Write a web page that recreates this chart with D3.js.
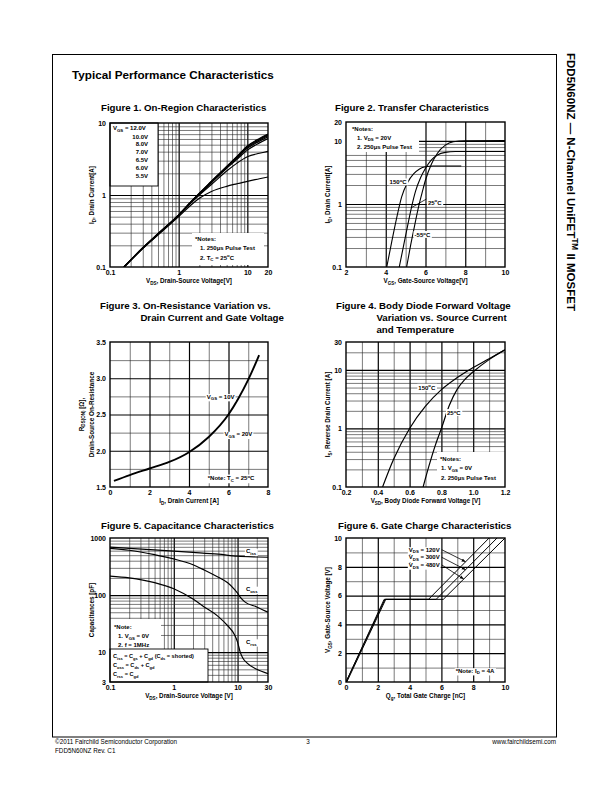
<!DOCTYPE html>
<html><head><meta charset="utf-8">
<script src="https://cdn.jsdelivr.net/npm/d3@7"></script>
<style>body{margin:0;background:#fff}svg{display:block}</style>
</head><body><script>
// ================= DATA =================
// Figure 1 : On-Region Characteristics
const fig1Vds   = [0.16,0.3,0.5,1,1.5,2,3,5,7,10,15,20];
const fig1Id12  = [0.1,0.185,0.29,0.53,0.8,1.06,1.55,2.5,3.4,4.8,6.1,7.0];
const fig1Id10  = [0.1,0.185,0.29,0.53,0.8,1.05,1.54,2.48,3.35,4.7,5.95,6.85];
const fig1Id8   = [0.1,0.184,0.29,0.53,0.79,1.04,1.52,2.45,3.3,4.6,5.8,6.7];
const fig1Id7   = [0.1,0.183,0.285,0.52,0.79,1.03,1.5,2.4,3.2,4.45,5.6,6.45];
const fig1Id65  = [0.1,0.183,0.285,0.52,0.78,1.02,1.48,2.35,3.1,4.2,5.3,6.1];
const fig1Id6   = [0.1,0.182,0.28,0.52,0.77,1.0,1.4,2.15,2.75,3.4,3.8,4.05];
const fig1Id55  = [0.1,0.18,0.28,0.5,0.72,0.9,1.12,1.32,1.43,1.55,1.68,1.78];
const fig1Legend = ["10.0V","8.0V","7.0V","6.5V","6.0V","5.5V"];
const fig1XTicks = [0.1,1,10,20], fig1XLabels = ["0.1","1","10","20"];
const fig1YTicks = [0.1,1,10],    fig1YLabels = ["0.1","1","10"];

// Figure 2 : Transfer Characteristics
const fig2Vgs150 = [4.05,4.3,4.55,4.8,5.1,5.4,5.7,6.0,6.4,7.8];
const fig2Id150  = [0.1,0.25,0.6,1.3,2.2,3.0,3.6,3.9,4.0,4.0];
const fig2Vgs25  = [4.68,4.9,5.1,5.3,5.5,5.75,6.0,6.3,6.6,7.0,7.5,10];
const fig2Id25   = [0.1,0.22,0.45,0.9,1.6,2.6,3.7,5.0,6.0,6.6,6.8,6.8];
const fig2VgsM55 = [5.05,5.25,5.45,5.65,5.85,6.0,6.3,6.6,7.0,7.4,8,10];
const fig2IdM55  = [0.1,0.22,0.45,0.9,1.6,2.4,4.3,6.4,8.6,9.7,10.1,10.2];
const fig2XTicks = [2,4,6,8,10], fig2XLabels = ["2","4","6","8","10"];
const fig2YTicks = [0.1,1,10,20], fig2YLabels = ["0.1","1","10","20"];

// Figure 3 : On-Resistance vs Drain Current
const fig3Id  = [0.2,1,2,3,4,5,6,6.5,7,7.3,7.55];
const fig3Rds = [1.585,1.665,1.755,1.845,1.98,2.19,2.5,2.72,2.98,3.16,3.32];
const fig3XTicks = [0,2,4,6,8], fig3XLabels = ["0","2","4","6","8"];
const fig3YTicks = [1.5,2.0,2.5,3.0,3.5], fig3YLabels = ["1.5","2.0","2.5","3.0","3.5"];

// Figure 4 : Body Diode Forward Voltage
const fig4Vsd150 = [0.43,0.5,0.6,0.7,0.8,0.9,1.0,1.1,1.2];
const fig4Is150  = [0.1,0.3,1.0,2.4,4.6,7.4,11,15.5,22];
const fig4Vsd25  = [0.685,0.72,0.76,0.8,0.85,0.9,0.95,1.0,1.1,1.2];
const fig4Is25   = [0.1,0.22,0.5,1.0,2.5,4.7,7,9.3,15,22];
const fig4XTicks = [0.2,0.4,0.6,0.8,1.0,1.2], fig4XLabels = ["0.2","0.4","0.6","0.8","1.0","1.2"];
const fig4YTicks = [0.1,1,10,30], fig4YLabels = ["0.1","1","10","30"];

// Figure 5 : Capacitance Characteristics
const fig5VdsIss = [0.1,0.2,0.5,1,2,5,10,20,30];
const fig5Ciss   = [690,660,620,590,560,520,480,465,460];
const fig5VdsOss = [0.1,0.2,0.5,1,2,3,5,7,9,10,11,13,20,30];
const fig5Coss   = [660,610,510,430,340,275,205,165,125,108,92,76,62,50];
const fig5VdsRss = [0.1,0.2,0.5,1,2,3,5,7,9,10,11,12,14,20,30];
const fig5Crss   = [215,200,165,129,85,62,42,29,20,15,10,8,6.5,5,4.2];
const fig5XTicks = [0.1,1,10,30], fig5XLabels = ["0.1","1","10","30"];
const fig5YTicks = [3,10,100,1000], fig5YLabels = ["3","10","100","1000"];

// Figure 6 : Gate Charge Characteristics
const fig6Qg120 = [0,2.4,5.19,9.0];
const fig6Qg300 = [0,2.45,5.67,9.5];
const fig6Qg480 = [0.05,2.5,6.12,10.0];
const fig6Vgs   = [0,5.74,5.74,10];
const fig6Labels = ["120V","300V","480V"];
const fig6ArrowV = [8.35,7.8,7.15];
const fig6XTicks = [0,2,4,6,8,10], fig6XLabels = ["0","2","4","6","8","10"];
const fig6YTicks = [0,2,4,6,8,10], fig6YLabels = ["0","2","4","6","8","10"];

// ================= DRAWING =================
const FONT = '"Liberation Sans", Arial, Helvetica, sans-serif';
const svg = d3.select("body").append("svg").attr("width",612).attr("height",792);
const defs = svg.append("defs");
defs.append("marker").attr("id","arr").attr("viewBox","0 0 10 10").attr("refX",10).attr("refY",5)
  .attr("markerWidth",5).attr("markerHeight",5).attr("orient","auto")
  .append("path").attr("d","M0,1 L10,5 L0,9 Z").attr("fill","#000");

function rich(t, str, size){
  const re = /(_|\^)\{([^}]*)\}/g; let last=0, m; const segs=[];
  while((m=re.exec(str))){ if(m.index>last) segs.push({t:str.slice(last,m.index),k:'n'});
    segs.push({t:m[2],k:m[1]==='_'?'sub':'sup'}); last=re.lastIndex; }
  if(last<str.length) segs.push({t:str.slice(last),k:'n'});
  let cur=0;
  segs.forEach(s=>{ const tg = s.k==='sub'? size*0.3 : s.k==='sup'? -size*0.4 : 0;
    const ts=t.append('tspan').text(s.t).attr('dy',tg-cur);
    if(s.k!=='n') ts.attr('font-size',size*0.72);
    cur=tg; });
  return t;
}
function txt(p,x,y,str,o={}){
  const size=o.size||6;
  const t=p.append('text').attr('x',x).attr('y',y).attr('font-size',size).attr('font-family',FONT)
    .attr('font-weight',o.weight||'bold').attr('text-anchor',o.anchor||'start').attr('fill','#000');
  if(o.rotate) t.attr('transform',`rotate(${o.rotate},${x},${y})`);
  rich(t,str,size);
  if(o.bg){ const bb=t.node().getBBox();
    p.insert('rect',()=>t.node()).attr('x',bb.x-1).attr('y',bb.y+0.5).attr('width',bb.width+2).attr('height',bb.height-0.5).attr('fill','#fff'); }
  return t;
}
function logMinor(lo,hi){ const out=[];
  for(let e=Math.floor(Math.log10(lo));e<=Math.ceil(Math.log10(hi));e++)
    for(let k=2;k<=9;k++){ const v=+(k*Math.pow(10,e)).toPrecision(3); if(v>lo*1.0001&&v<hi*0.9999) out.push(v);} return out; }

let clipN=0;
function chart(o){
  const g=svg.append('g');
  const x=(o.xLog?d3.scaleLog():d3.scaleLinear()).domain(o.xDom).range([o.L,o.R]);
  const y=(o.yLog?d3.scaleLog():d3.scaleLinear()).domain(o.yDom).range([o.B,o.T]);
  const Hh=o.B-o.T, Ww=o.R-o.L;
  const gridG=g.append('g');
  [[o.xMinor,0.6,'#222'],[o.xMajor,1.2,'#000']].forEach(([v,sw,c])=>{
    gridG.append('g').attr('transform',`translate(0,${o.B})`)
      .call(d3.axisBottom(x).tickValues(v).tickSize(-Hh).tickFormat(''))
      .call(s=>s.select('.domain').remove())
      .call(s=>s.selectAll('line').attr('stroke',c).attr('stroke-width',sw)); });
  [[o.yMinor,0.6,'#222'],[o.yMajor,1.2,'#000']].forEach(([v,sw,c])=>{
    gridG.append('g').attr('transform',`translate(${o.L},0)`)
      .call(d3.axisLeft(y).tickValues(v).tickSize(-Ww).tickFormat(''))
      .call(s=>s.select('.domain').remove())
      .call(s=>s.selectAll('line').attr('stroke',c).attr('stroke-width',sw)); });
  const bgG=g.append('g');
  const id='clip'+(clipN++);
  defs.append('clipPath').attr('id',id).append('rect').attr('x',o.L).attr('y',o.T).attr('width',Ww).attr('height',Hh);
  const curveG=g.append('g').attr('clip-path',`url(#${id})`);
  const annoG=g.append('g');
  g.append('g').attr('transform',`translate(0,${o.B})`)
    .call(d3.axisBottom(x).tickValues(o.xTicks).tickSize(0).tickPadding(3).tickFormat((d,i)=>o.xLabels[i]))
    .call(s=>s.select('.domain').remove())
    .attr('font-size',7).attr('font-family',FONT).attr('font-weight','bold');
  g.append('g').attr('transform',`translate(${o.L},0)`)
    .call(d3.axisLeft(y).tickValues(o.yTicks).tickSize(0).tickPadding(4).tickFormat((d,i)=>o.yLabels[i]))
    .call(s=>s.select('.domain').remove())
    .attr('font-size',7).attr('font-family',FONT).attr('font-weight','bold');
  txt(g,(o.L+o.R)/2,o.B+16,o.xTitle,{size:6.3,anchor:'middle'});
  const yt=o.yTitle; const cy=(o.T+o.B)/2;
  yt.forEach((s,i)=>txt(g,o.L-16-(yt.length-1-i)*10.5,cy,s,{size:6.3,anchor:'middle',rotate:-90}));
  const tg=g.append('g');
  txt(tg,o.titleX,o.titleY,o.title[0],{size:9.7});
  let indent=0;
  if(o.title.length>1){ const probe=tg.append('text').attr('font-size',9.7).attr('font-family',FONT).attr('font-weight','bold').text(o.titlePrefix);
    indent=probe.node().getComputedTextLength(); probe.remove(); }
  o.title.slice(1).forEach((s,i)=>txt(tg,o.titleX+indent,o.titleY+12*(i+1),s,{size:9.7}));
  g.append('rect').attr('x',o.L).attr('y',o.T).attr('width',Ww).attr('height',Hh).attr('fill','none').attr('stroke','#000').attr('stroke-width',1.4);
  return {x,y,bgG,curveG,annoG,o};
}
const zip=(a,b)=>a.map((v,i)=>[v,b[i]]);
function drawLine(c,xs,ys,sw,curve){
  c.curveG.append('path').datum(zip(xs,ys))
    .attr('d',d3.line().x(d=>c.x(d[0])).y(d=>c.y(d[1])).curve(curve||d3.curveMonotoneX))
    .attr('fill','none').attr('stroke','#000').attr('stroke-width',sw).attr('stroke-linejoin','round');
}
function whiteBox(c,x0,y0,x1,y1,stroke){
  c.bgG.append('rect').attr('x',x0).attr('y',y0).attr('width',x1-x0).attr('height',y1-y0)
    .attr('fill','#fff').attr('stroke',stroke?'#000':'none').attr('stroke-width',0.9);
}

// ---- page frame ----
svg.append('rect').attr('x',52.5).attr('y',54.5).attr('width',504).attr('height',682.5).attr('fill','none').attr('stroke','#000').attr('stroke-width',1);
txt(svg,72,79,'Typical Performance Characteristics',{size:11.7});
txt(svg,567,53,'FDD5N60NZ — N-Channel UniFET^{TM} II MOSFET',{size:11.5,rotate:90});
txt(svg,55,743.5,'©2011 Fairchild Semiconductor Corporation',{size:6.3,weight:'normal'});
txt(svg,55,752.5,'FDD5N60NZ Rev. C1',{size:6.3,weight:'normal'});
txt(svg,308,743.5,'3',{size:6.3,weight:'normal',anchor:'middle'});
txt(svg,556,743.5,'www.fairchildsemi.com',{size:6.3,weight:'normal',anchor:'end'});

// ---- Figure 1 ----
const c1=chart({L:110,R:268,T:123,B:267,xLog:true,xDom:[0.1,20],yLog:true,yDom:[0.1,10],
  xMinor:logMinor(0.1,20),xMajor:[1,10],yMinor:logMinor(0.1,10),yMajor:[1],
  xTicks:fig1XTicks,xLabels:fig1XLabels,yTicks:fig1YTicks,yLabels:fig1YLabels,
  xTitle:'V_{DS}, Drain-Source Voltage[V]',yTitle:['I_{D}, Drain Current[A]'],
  title:['Figure 1. On-Region Characteristics'],titleX:101,titleY:111});
[fig1Id12,fig1Id10,fig1Id8,fig1Id7,fig1Id65,fig1Id6,fig1Id55].forEach(s=>drawLine(c1,fig1Vds,s,1.2));
whiteBox(c1,110,123,158,186,true);
txt(c1.annoG,113,130,'V_{GS} = 12.0V');
fig1Legend.forEach((s,i)=>txt(c1.annoG,148,138.5+i*7.8,s,{anchor:'end'}));
whiteBox(c1,192,233,264,265,false);
txt(c1.annoG,195,241,'*Notes:');
txt(c1.annoG,200,249.5,'1. 250μs Pulse Test');
txt(c1.annoG,200,259.5,'2. T_{C} = 25^{o}C');

// ---- Figure 2 ----
const c2=chart({L:346,R:505,T:122,B:267,xLog:false,xDom:[2,10],yLog:true,yDom:[0.1,20],
  xMinor:[3,5,7,9],xMajor:[4,6,8],yMinor:logMinor(0.1,20),yMajor:[1,10],
  xTicks:fig2XTicks,xLabels:fig2XLabels,yTicks:fig2YTicks,yLabels:fig2YLabels,
  xTitle:'V_{GS}, Gate-Source Voltage[V]',yTitle:['I_{D}, Drain Current[A]'],
  title:['Figure 2. Transfer Characteristics'],titleX:335,titleY:111});
drawLine(c2,fig2Vgs150,fig2Id150,1.1);
drawLine(c2,fig2Vgs25,fig2Id25,1.1);
drawLine(c2,fig2VgsM55,fig2IdM55,1.1);
whiteBox(c2,346,122,419,152,false);
txt(c2.annoG,352,130.5,'*Notes:');
txt(c2.annoG,357,139.5,'1. V_{DS} = 20V');
txt(c2.annoG,357,148.5,'2. 250μs Pulse Test');
txt(c2.annoG,c2.x(5.1)-1,c2.y(2.05),'150^{o}C',{anchor:'end',bg:true});
c2.annoG.append('line').attr('x1',c2.x(6.05)).attr('y1',c2.y(1.2)).attr('x2',c2.x(5.28)).attr('y2',c2.y(0.87)).attr('stroke','#000').attr('stroke-width',0.8);
txt(c2.annoG,c2.x(6.12),c2.y(0.98),'25^{o}C',{bg:true});
txt(c2.annoG,c2.x(5.45),c2.y(0.3),'-55^{o}C',{bg:true});

// ---- Figure 3 ----
const c3=chart({L:110,R:268,T:342,B:487,xLog:false,xDom:[0,8],yLog:false,yDom:[1.5,3.5],
  xMinor:[1,3,5,7],xMajor:[2,4,6],yMinor:[1.75,2.25,2.75,3.25],yMajor:[2.0,2.5,3.0],
  xTicks:fig3XTicks,xLabels:fig3XLabels,yTicks:fig3YTicks,yLabels:fig3YLabels,
  xTitle:'I_{D}, Drain Current [A]',yTitle:['R_{DS(ON)} [Ω],','Drain-Source On-Resistance'],
  title:['Figure 3. On-Resistance Variation vs.','Drain Current and Gate Voltage'],titlePrefix:'Figure 3. ',titleX:100,titleY:308.5});
drawLine(c3,fig3Id,fig3Rds,1.9);
txt(c3.annoG,c3.x(4.9),c3.y(2.72),'V_{GS} = 10V',{bg:true});
txt(c3.annoG,c3.x(5.8),c3.y(2.2),'V_{GS} = 20V',{bg:true});
txt(c3.annoG,c3.x(4.95),c3.y(1.59),'*Note: T_{C} = 25^{o}C',{bg:true});

// ---- Figure 4 ----
const c4=chart({L:346,R:505,T:342,B:487,xLog:false,xDom:[0.2,1.2],yLog:true,yDom:[0.1,30],
  xMinor:[0.3,0.5,0.7,0.9,1.1],xMajor:[0.4,0.6,0.8,1.0],yMinor:logMinor(0.1,30),yMajor:[1,10],
  xTicks:fig4XTicks,xLabels:fig4XLabels,yTicks:fig4YTicks,yLabels:fig4YLabels,
  xTitle:'V_{SD}, Body Diode Forward Voltage [V]',yTitle:['I_{S}, Reverse Drain Current [A]'],
  title:['Figure 4. Body Diode Forward Voltage','Variation vs. Source Current','and Temperature'],titlePrefix:'Figure 4. ',titleX:336,titleY:308.5});
whiteBox(c4,437,452,505,487,false);
drawLine(c4,fig4Vsd150,fig4Is150,1.2);
drawLine(c4,fig4Vsd25,fig4Is25,1.2);
txt(c4.annoG,c4.x(0.655),c4.y(4.6),'150^{o}C',{bg:true});
txt(c4.annoG,c4.x(0.835),c4.y(1.7),'25^{o}C',{bg:true});
txt(c4.annoG,440,460.5,'*Notes:');
txt(c4.annoG,441,470,'1. V_{GS} = 0V');
txt(c4.annoG,441,479.5,'2. 250μs Pulse Test');

// ---- Figure 5 ----
const c5=chart({L:110,R:268,T:538,B:682,xLog:true,xDom:[0.1,30],yLog:true,yDom:[3,1000],
  xMinor:logMinor(0.1,30),xMajor:[1,10],yMinor:logMinor(3,1000),yMajor:[10,100],
  xTicks:fig5XTicks,xLabels:fig5XLabels,yTicks:fig5YTicks,yLabels:fig5YLabels,
  xTitle:'V_{DS}, Drain-Source Voltage [V]',yTitle:['Capacitances [pF]'],
  title:['Figure 5. Capacitance Characteristics'],titleX:101,titleY:528.5});
whiteBox(c5,110,619,161,649,false);
whiteBox(c5,110,649,208,682,true);
drawLine(c5,fig5VdsIss,fig5Ciss,1.2);
drawLine(c5,fig5VdsOss,fig5Coss,1.2);
drawLine(c5,fig5VdsRss,fig5Crss,1.2);
txt(c5.annoG,c5.x(13.5),c5.y(540),'C_{iss}',{bg:true});
txt(c5.annoG,c5.x(13.5),c5.y(117),'C_{oss}',{bg:true});
txt(c5.annoG,c5.x(13.5),c5.y(14),'C_{rss}',{bg:true});
txt(c5.annoG,114,629,'*Note:');
txt(c5.annoG,118,638,'1. V_{GS} = 0V');
txt(c5.annoG,118,647,'2. f = 1MHz');
txt(c5.annoG,113,658,'C_{iss} = C_{gs} + C_{gd} (C_{ds} = shorted)',{size:5.6});
txt(c5.annoG,113,667,'C_{oss} = C_{ds} + C_{gd}',{size:5.6});
txt(c5.annoG,113,676,'C_{rss} = C_{gd}',{size:5.6});

// ---- Figure 6 ----
const c6=chart({L:346,R:505,T:538,B:682,xLog:false,xDom:[0,10],yLog:false,yDom:[0,10],
  xMinor:[1,3,5,7,9],xMajor:[2,4,6,8],yMinor:[1,3,5,7,9],yMajor:[2,4,6,8],
  xTicks:fig6XTicks,xLabels:fig6XLabels,yTicks:fig6YTicks,yLabels:fig6YLabels,
  xTitle:'Q_{g}, Total Gate Charge [nC]',yTitle:['V_{GS}, Gate-Source Voltage [V]'],
  title:['Figure 6. Gate Charge Characteristics'],titleX:338,titleY:528.5});
const fig6Series=[fig6Qg120,fig6Qg300,fig6Qg480];
fig6Series.forEach(q=>drawLine(c6,q,fig6Vgs,1.0,d3.curveLinear));
fig6Labels.forEach((s,i)=>{
  const ty=c6.y(9.05)+i*7.6;
  const t=txt(c6.annoG,c6.x(3.95),ty,'V_{DS} = '+s,{bg:true});
  const bb=t.node().getBBox();
  const q=fig6Series[i]; const v=fig6ArrowV[i];
  const qx=q[2]+(v-fig6Vgs[2])*(q[3]-q[2])/(fig6Vgs[3]-fig6Vgs[2]);
  c6.annoG.append('line').attr('x1',bb.x+bb.width+2).attr('y1',ty-2).attr('x2',c6.x(qx)).attr('y2',c6.y(v))
    .attr('stroke','#000').attr('stroke-width',0.8).attr('marker-end','url(#arr)');
});
txt(c6.annoG,c6.x(6.9),c6.y(0.65),'*Note: I_{D} = 4A',{bg:true});
</script></body></html>
